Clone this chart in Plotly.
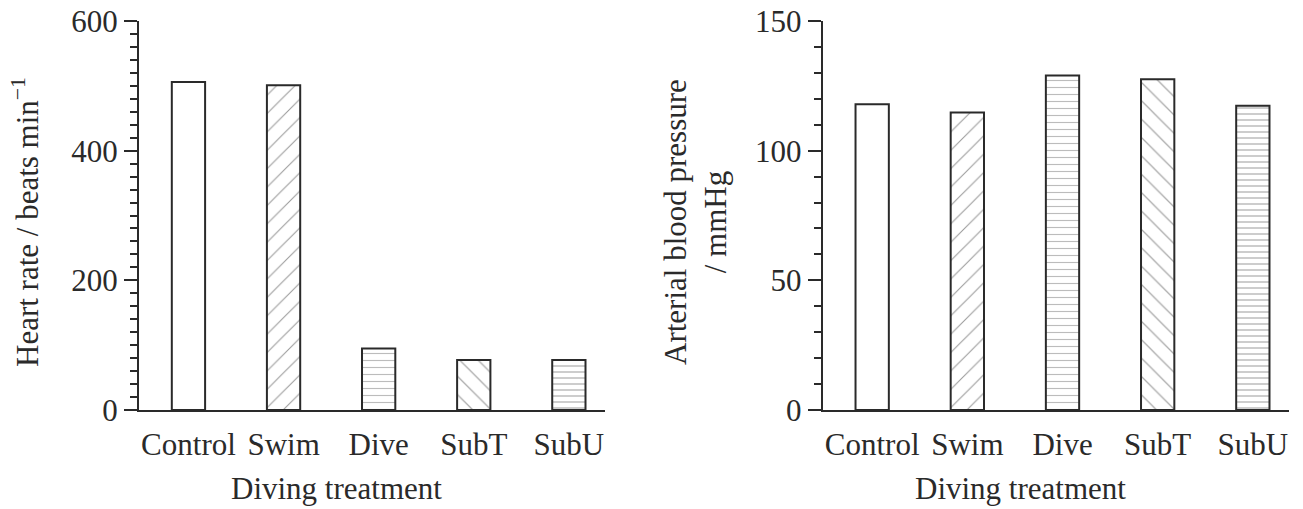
import plotly.graph_objects as go

categories = ["Control", "Swim", "Dive", "SubT", "SubU"]
heart_rate = [506, 501, 95, 77, 77]
blood_pressure = [117.9, 114.7, 129.0, 127.5, 117.3]

patterns = ["", "/", "-", "\\", "-"]
pattern_colors = ["#333", "#333", "#7a7a7a", "#555", "#555"]
pattern_sizes = [8, 13, 7, 13, 6]
pattern_solidity = [0.1, 0.08, 0.16, 0.1, 0.2]

W, H = 1303, 509
FONT = "Liberation Serif, Times New Roman, serif"
INK = "#2a2a2a"

def px_x(p):
    return p / W

def px_y(p):
    return 1 - p / H

bar_style = dict(
    width=0.35,
    marker=dict(
        color="white",
        line=dict(color=INK, width=2),
        pattern=dict(shape=patterns, fgcolor=pattern_colors, size=pattern_sizes,
                     solidity=pattern_solidity, bgcolor="white", fillmode="overlay"),
    ),
    showlegend=False,
    hoverinfo="x+y",
)

fig = go.Figure()
fig.add_trace(go.Bar(x=categories, y=heart_rate, xaxis="x", yaxis="y", **bar_style))
fig.add_trace(go.Bar(x=categories, y=blood_pressure, xaxis="x2", yaxis="y2", **bar_style))

ydom = [px_y(410), px_y(21)]

xaxis_common = dict(
    type="category", range=[-0.52, 4.38], showline=True, linewidth=2, linecolor=INK,
    showgrid=False, zeroline=False, ticks="outside", ticklen=6, tickcolor="rgba(0,0,0,0)",
    tickfont=dict(family=FONT, size=31, color=INK), automargin=False,
)
yaxis_common = dict(
    showline=True, linewidth=2, linecolor=INK, showgrid=False, zeroline=False,
    ticks="outside", ticklen=13, tickwidth=2, tickcolor=INK,
    tickfont=dict(family=FONT, size=31, color=INK), automargin=False,
)

fig.update_layout(
    width=W, height=H,
    margin=dict(l=0, r=0, t=0, b=0, autoexpand=False),
    paper_bgcolor="white", plot_bgcolor="white",
    bargap=0.65,
    xaxis=dict(domain=[px_x(139), px_x(605)], anchor="y", **xaxis_common),
    xaxis2=dict(domain=[px_x(822.7), px_x(1289)], anchor="y2", **xaxis_common),
    yaxis=dict(domain=ydom, anchor="x", range=[0, 600], tickvals=[0, 200, 400, 600],
               minor=dict(ticks="outside", ticklen=7, tickwidth=2, tickcolor=INK, dtick=20),
               **yaxis_common),
    yaxis2=dict(domain=ydom, anchor="x2", range=[0, 150], tickvals=[0, 50, 100, 150],
                minor=dict(ticks="outside", ticklen=7, tickwidth=2, tickcolor=INK, dtick=10),
                **yaxis_common),
    annotations=[
        dict(text="Diving treatment", x=px_x(336.5), y=px_y(488), xref="paper", yref="paper",
             showarrow=False, xanchor="center", yanchor="middle",
             font=dict(family=FONT, size=31, color=INK)),
        dict(text="Diving treatment", x=px_x(1020), y=px_y(488), xref="paper", yref="paper",
             showarrow=False, xanchor="center", yanchor="middle",
             font=dict(family=FONT, size=31, color=INK)),
        dict(text="Heart rate / beats min<sup>−1</sup>", x=px_x(25), y=px_y(222),
             xref="paper", yref="paper", showarrow=False, textangle=-90,
             xanchor="center", yanchor="middle",
             font=dict(family=FONT, size=31, color=INK)),
        dict(text="Arterial blood pressure<br>/ mmHg", x=px_x(695), y=px_y(222),
             xref="paper", yref="paper", showarrow=False, textangle=-90,
             xanchor="center", yanchor="middle",
             font=dict(family=FONT, size=31, color=INK)),
    ],
)

fig.write_html(
    "out.html",
    config={"displayModeBar": False},
    post_script="document.body.style.margin='0';document.body.style.overflow='hidden';",
)
